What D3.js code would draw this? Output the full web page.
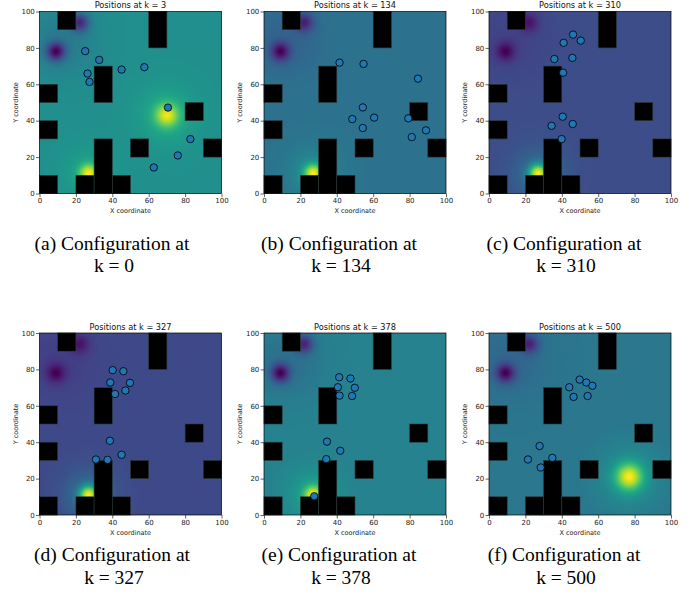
<!DOCTYPE html>
<html>
<head>
<meta charset="utf-8">
<script src="https://cdn.jsdelivr.net/npm/d3@7"></script>
<style>
  body { margin: 0; background: #fff; }
  svg { display: block; }
  .tick text { font-family: "DejaVu Sans", sans-serif; font-size: 7px; fill: #222; }
  .tick line { stroke: #222; stroke-width: 0.7; }
</style>
</head>
<body>
<div id="chart"></div>
<script>
// Data
const frameSteps = [3, 134, 310, 327, 378, 500]
const captionLetters = ['a', 'b', 'c', 'd', 'e', 'f']
const captionSteps = [0, 134, 310, 327, 378, 500]
const axisTicks = [0, 20, 40, 60, 80, 100]

// obstacles: [x, y, w, h] in map units
const obstacles = [
    [10, 90, 10, 10], [60, 80, 10, 20], [30, 50, 10, 20], [0, 50, 10, 10],
    [0, 30, 10, 10], [80, 40, 10, 10], [50, 20, 10, 10], [90, 20, 10, 10],
    [0, 0, 10, 10], [20, 0, 10, 10], [30, 0, 10, 30], [40, 0, 10, 10]
]

// field sources: [x, y, amplitude, spread]
const sinks = [[9, 78, -1.0, 3.6], [22, 94, -0.8, 3.6], [12, 84, -0.2, 14]]
const sourcesA = [[27, 11, 1.0, 3.5], [27, 11, 0.2, 10], [70, 43, 0.9, 4.5], [70, 43, 0.25, 12]]
const sourcesB = [[27, 11, 1.6, 3.5], [27, 11, 0.35, 10]]
const sourcesC = [[27, 11, 3.2, 3.5], [27, 11, 0.7, 10]]
const sourcesD = [[27, 11, 3.4, 3.5], [27, 11, 0.8, 10]]
const sourcesE = [[27, 11, 1.15, 3.5], [27, 11, 0.35, 10]]
const sourcesF = [[77, 21, 1.4, 5], [77, 21, 0.4, 12]]

// agent positions: [x, y]
const positionsA = [[25.1, 78.2], [32.8, 73.4], [26.4, 65.9], [27.5, 61.3], [45.1, 68.1],
    [57.6, 69.4], [70.6, 47.2], [82.9, 29.9], [76.0, 20.9], [62.8, 14.3]]
const positionsB = [[41.5, 71.9], [54.7, 71.2], [84.6, 63.1], [54.3, 47.3], [48.5, 40.9],
    [60.5, 41.7], [54.3, 36.0], [79.3, 41.3], [81.2, 31.0], [89.0, 34.7]]
const positionsC = [[46.2, 87.3], [50.4, 84.0], [41.0, 82.8], [35.9, 73.9], [45.8, 74.5],
    [40.7, 66.4], [40.5, 42.2], [34.4, 37.2], [46.0, 38.2], [39.9, 29.9]]
const positionsD = [[40.2, 79.6], [46.1, 79.0], [38.9, 72.8], [49.7, 72.6], [41.5, 66.5],
    [47.2, 68.4], [38.7, 40.8], [45.1, 33.1], [31.0, 30.5], [37.4, 30.3]]
const positionsE = [[41.3, 75.7], [47.5, 75.0], [40.6, 70.2], [49.9, 69.9], [41.5, 65.6],
    [48.4, 65.4], [34.6, 40.3], [41.9, 35.3], [34.2, 30.7], [27.6, 10.3]]
const positionsF = [[49.8, 74.4], [53.5, 72.8], [56.8, 71.0], [44.1, 70.2], [46.5, 64.9],
    [54.2, 65.4], [27.8, 37.9], [21.4, 30.5], [34.8, 31.4], [28.4, 26.1]]

const allSources = [sourcesA, sourcesB, sourcesC, sourcesD, sourcesE, sourcesF]
const allPositions = [positionsA, positionsB, positionsC, positionsD, positionsE, positionsF]

// Presentation
const width = 699
const height = 601
const plotSize = 182
const lefts = [39.5, 264, 489]
const tops = [11.5, 333]
const captionX = [112, 339, 564]
const captionY = [249.5, 561]
const grid = 200

const svg = d3.select('#chart').append('svg')
    .attr('width', width)
    .attr('height', height)

const x = d3.scaleLinear().domain([0, 100]).range([0, plotSize])
const y = d3.scaleLinear().domain([0, 100]).range([plotSize, 0])

function fieldAt(px, py, sources) {
    return sinks.concat(sources).reduce((sum, [sx, sy, a, s]) => {
        const d2 = (px - sx) ** 2 + (py - sy) ** 2
        return sum + a * Math.exp(-d2 / (2 * s * s))
    }, 0)
}

frameSteps.forEach((step, i) => {
    const col = i % 3
    const row = Math.floor(i / 3)
    const g = svg.append('g')
        .attr('transform', `translate(${lefts[col]},${tops[row]})`)

    // Heat field
    const values = []
    for (let j = 0; j < grid; j++) {
        for (let k = 0; k < grid; k++) {
            const px = (k + 0.5) * 100 / grid
            const py = 100 - (j + 0.5) * 100 / grid
            values.push(fieldAt(px, py, allSources[i]))
        }
    }
    const color = d3.scaleSequential(d3.interpolateViridis).domain(d3.extent(values))
    const canvas = document.createElement('canvas')
    canvas.width = grid
    canvas.height = grid
    const ctx = canvas.getContext('2d')
    const img = ctx.createImageData(grid, grid)
    values.forEach((v, idx) => {
        const c = d3.rgb(color(v))
        img.data[idx * 4] = c.r
        img.data[idx * 4 + 1] = c.g
        img.data[idx * 4 + 2] = c.b
        img.data[idx * 4 + 3] = 255
    })
    ctx.putImageData(img, 0, 0)
    g.append('image')
        .attr('href', canvas.toDataURL())
        .attr('x', x(0))
        .attr('y', y(100))
        .attr('width', x(100) - x(0))
        .attr('height', y(0) - y(100))
        .attr('preserveAspectRatio', 'none')

    // Obstacles
    g.selectAll('rect.obstacle')
        .data(obstacles)
        .join('rect')
        .attr('class', 'obstacle')
        .attr('x', d => x(d[0]))
        .attr('y', d => y(d[1] + d[3]))
        .attr('width', d => x(d[2]) - x(0))
        .attr('height', d => y(0) - y(d[3]))
        .attr('fill', '#000')
        .attr('stroke', '#2b3b3b')
        .attr('stroke-width', 0.6)

    // Agents
    g.selectAll('circle.agent')
        .data(allPositions[i])
        .join('circle')
        .attr('class', 'agent')
        .attr('cx', d => x(d[0]))
        .attr('cy', d => y(d[1]))
        .attr('r', 3.7)
        .attr('fill', '#1f77b4')
        .attr('stroke', '#000')
        .attr('stroke-width', 0.8)

    // Frame
    g.append('rect')
        .attr('width', plotSize)
        .attr('height', plotSize)
        .attr('fill', 'none')
        .attr('stroke', '#000')
        .attr('stroke-width', 0.7)

    // Axes
    const xAxis = g.append('g')
        .attr('transform', `translate(0,${plotSize})`)
        .call(d3.axisBottom(x).tickValues(axisTicks).tickSize(3.5).tickPadding(1.5))
    const yAxis = g.append('g')
        .call(d3.axisLeft(y).tickValues(axisTicks).tickSize(3.5).tickPadding(1.2))
    xAxis.select('.domain').remove()
    yAxis.select('.domain').remove()

    g.append('text')
        .attr('x', plotSize / 2)
        .attr('y', -3.3)
        .attr('text-anchor', 'middle')
        .attr('font-family', 'DejaVu Sans, sans-serif')
        .attr('font-size', 8.2)
        .attr('fill', '#111')
        .text(`Positions at k = ${step}`)

    g.append('text')
        .attr('x', plotSize / 2)
        .attr('y', plotSize + 19.5)
        .attr('text-anchor', 'middle')
        .attr('font-family', 'DejaVu Sans, sans-serif')
        .attr('font-size', 6.5)
        .attr('fill', '#222')
        .text('X coordinate')

    g.append('text')
        .attr('transform', `translate(-22,${plotSize / 2}) rotate(-90)`)
        .attr('text-anchor', 'middle')
        .attr('font-family', 'DejaVu Sans, sans-serif')
        .attr('font-size', 6.5)
        .attr('fill', '#222')
        .text('Y coordinate')

    // Caption, two separate lines
    const captionLines = [`(${captionLetters[i]}) Configuration at`, `k = ${captionSteps[i]}`]
    svg.append('g')
        .selectAll('text')
        .data(captionLines)
        .join('text')
        .attr('x', (d, n) => captionX[col] + n * 2)
        .attr('y', (d, n) => captionY[row] + n * 22.5)
        .attr('text-anchor', 'middle')
        .attr('font-family', 'Liberation Serif, Times New Roman, serif')
        .attr('font-size', 19.5)
        .attr('fill', '#000')
        .text(d => d)
})
</script>
</body>
</html>
